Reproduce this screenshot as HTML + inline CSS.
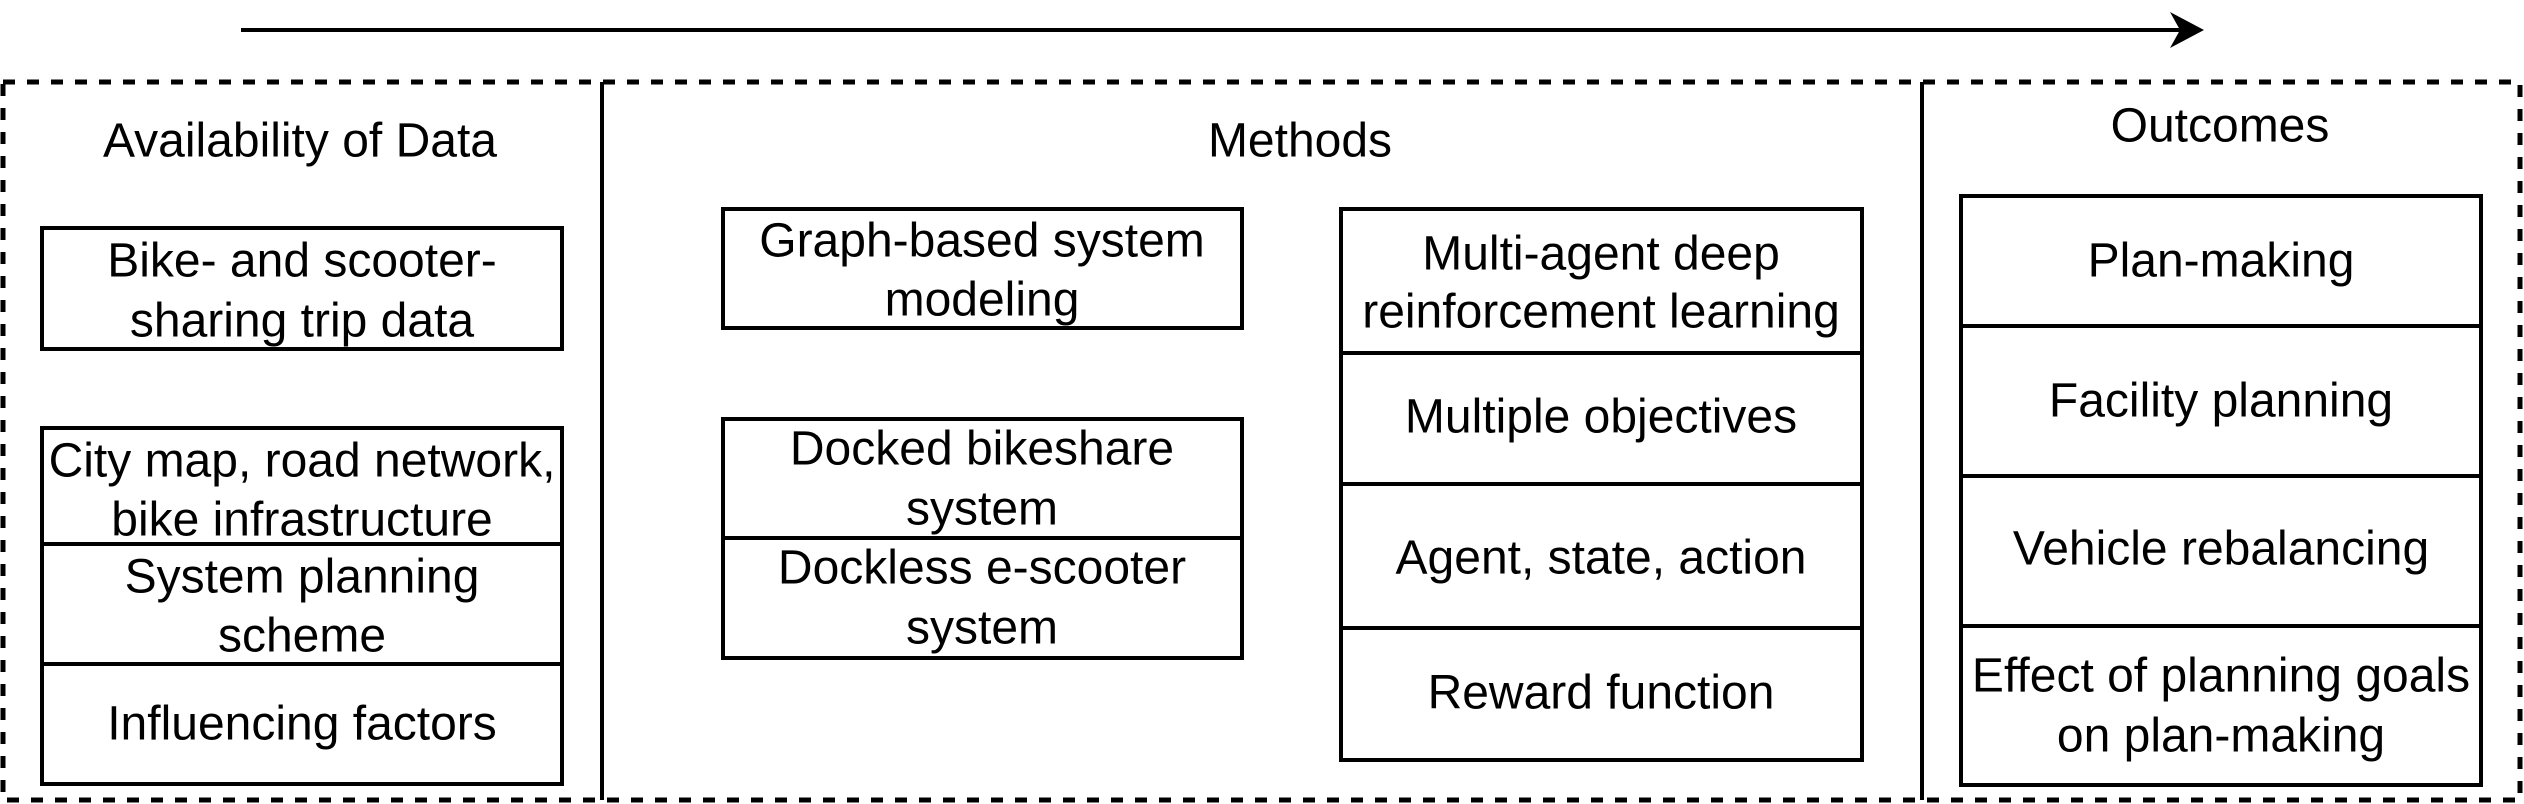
<!DOCTYPE html>
<html><head><meta charset="utf-8"><style>
html,body{margin:0;padding:0;background:#fff;}
svg{display:block;}
text{font-family:"Liberation Sans",Arial,sans-serif;font-size:48px;fill:#000;text-anchor:middle;dominant-baseline:central;}
</style></head><body>
<svg width="2524" height="804" viewBox="0 0 2524 804" xmlns="http://www.w3.org/2000/svg">
<line x1="241" y1="30" x2="2180" y2="30" stroke="#000" stroke-width="4"/>
<polygon points="2204,30 2170,12 2180,30 2170,48" fill="#000"/>
<rect x="3" y="82" width="2517" height="718" fill="none" stroke="#000" stroke-width="5" stroke-dasharray="12 12"/>
<line x1="602" y1="82" x2="602" y2="800" stroke="#000" stroke-width="4"/>
<line x1="1922" y1="82" x2="1922" y2="800" stroke="#000" stroke-width="4"/>
<g fill="none" stroke="#000" stroke-width="4">
<rect x="42" y="228" width="520" height="121"/>
<rect x="42" y="428" width="520" height="356"/>
<line x1="42" y1="544" x2="562" y2="544"/>
<line x1="42" y1="664" x2="562" y2="664"/>
<rect x="723" y="209" width="519" height="119"/>
<rect x="723" y="419" width="519" height="239"/>
<line x1="723" y1="538" x2="1242" y2="538"/>
<rect x="1341" y="209" width="521" height="551"/>
<line x1="1341" y1="353" x2="1862" y2="353"/>
<line x1="1341" y1="484" x2="1862" y2="484"/>
<line x1="1341" y1="628" x2="1862" y2="628"/>
<rect x="1961" y="196" width="520" height="589"/>
<line x1="1961" y1="326" x2="2481" y2="326"/>
<line x1="1961" y1="476" x2="2481" y2="476"/>
<line x1="1961" y1="626" x2="2481" y2="626"/>
</g>
<g transform="translate(0,2)">
<text x="300" y="139">Availability of Data</text>
<text x="1300" y="139">Methods</text>
<text x="2220" y="124">Outcomes</text>
<text x="302" y="259">Bike- and scooter-</text>
<text x="302" y="319">sharing trip data</text>
<text x="302" y="459">City map, road network,</text>
<text x="302" y="518">bike infrastructure</text>
<text x="302" y="575">System planning</text>
<text x="302" y="634">scheme</text>
<text x="302" y="722">Influencing factors</text>
<text x="982" y="239">Graph-based system</text>
<text x="982" y="298">modeling</text>
<text x="982" y="447">Docked bikeshare</text>
<text x="982" y="507">system</text>
<text x="982" y="566">Dockless e-scooter</text>
<text x="982" y="626">system</text>
<text x="1601" y="252">Multi-agent deep</text>
<text x="1601" y="310">reinforcement learning</text>
<text x="1601" y="415">Multiple objectives</text>
<text x="1601" y="556">Agent, state, action</text>
<text x="1601" y="691">Reward function</text>
<text x="2221" y="259">Plan-making</text>
<text x="2221" y="399">Facility planning</text>
<text x="2221" y="547">Vehicle rebalancing</text>
<text x="2221" y="674">Effect of planning goals</text>
<text x="2221" y="734">on plan-making</text>
</g>
</svg>
</body></html>
